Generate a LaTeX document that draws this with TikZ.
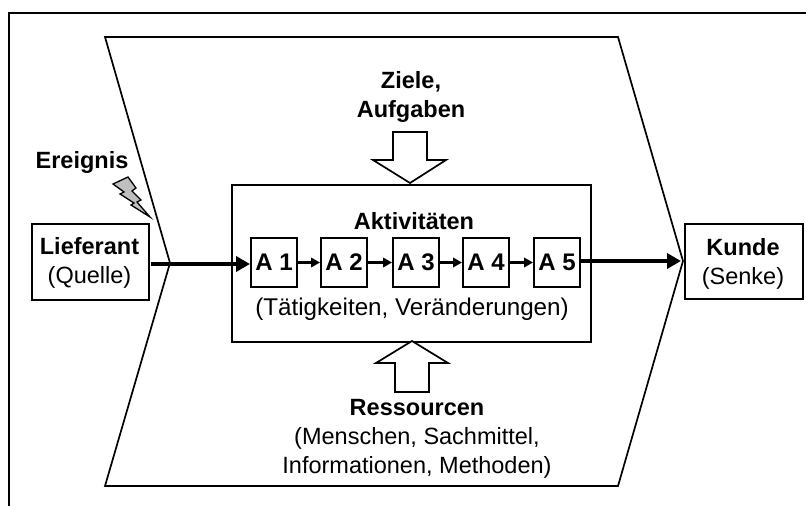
\documentclass[tikz,border=0pt]{standalone}
\usepackage{fontspec}
\usetikzlibrary{arrows.meta}
\setmainfont{Liberation Sans}
\tikzset{
 x=1bp,y=-1bp,
 line/.style={draw=black,line width=1.7bp,line join=miter},
 box/.style={draw=black,line width=2bp,fill=white,inner sep=0pt,align=center,anchor=north west},
 abox/.style={box,minimum width=46bp,minimum height=49bp,font=\bfseries\fontsize{24bp}{26bp}\selectfont},
 lab/.style={inner sep=0pt,align=center,font=\fontsize{23.5bp}{29bp}\selectfont},
 flow/.style={draw=black,line width=4.4bp},
 thin flow/.style={draw=black,line width=3.4bp},
}
\newcommand{\alab}[1]{\raisebox{-3bp}{#1}}
\begin{document}
\begin{tikzpicture}
\useasboundingbox (0,0) rectangle (806,506);
\fill[white] (0,0) rectangle (806,506);
\draw[line width=2bp] (9,506) -- (9,13) -- (806,13);
\draw[line] (105,37) -- (618,37) -- (683,261) -- (618,486) -- (105,486) -- (170,263) -- cycle;
\node[box,minimum width=117bp,minimum height=76bp] (lief) at (31,223) {};
\node[lab] at (89.5,262.5) {\textbf{Lieferant}\\(Quelle)};
\node[box,minimum width=118bp,minimum height=75bp] (kunde) at (684,223) {};
\node[lab] at (743,264) {\textbf{Kunde}\\(Senke)};
\node[box,minimum width=359bp,minimum height=157bp] (main) at (231,184) {};
\node[abox] (a1) at (250,237) {\alab{A 1}};
\node[abox] (a2) at (320,237) {\alab{A 2}};
\node[abox] (a3) at (392,237) {\alab{A 3}};
\node[abox] (a4) at (462,237) {\alab{A 4}};
\node[abox] (a5) at (533,237) {\alab{A 5}};
\node[lab,font=\bfseries\fontsize{23.5bp}{26bp}\selectfont] (akt) at (414,221) {Aktivitäten};
\node[lab,font=\fontsize{24.2bp}{29bp}\selectfont] (tat) at (412,309) {(Tätigkeiten, Veränderungen)};
\node[lab,font=\bfseries\fontsize{23.5bp}{29bp}\selectfont] (ziele) at (411,97) {Ziele,\\Aufgaben};
\node[lab,font=\bfseries\fontsize{23.5bp}{26bp}\selectfont] (ereignis) at (82,162) {Ereignis};
\node[lab,align=center] (res) at (417,439) {\textbf{Ressourcen}\\(Menschen, Sachmittel,\\Informationen, Methoden)};
\draw[line,fill=white] (393,132) -- (427,132) -- (427,160) -- (446,160) -- (410,183) -- (373,160) -- (393,160) -- cycle;
\draw[line,fill=white] (395,392) -- (429,392) -- (429,363) -- (448,363) -- (412,341) -- (376,363) -- (395,363) -- cycle;
\draw[line,fill=black!25,line width=1.3bp] (113,184) -- (128,177) -- (136,188) -- (132,191) -- (141,200) -- (137,202) -- (150,217) -- (131,205) -- (134,203) -- (120,194) -- (124,192) -- cycle;
\coordinate (st) at (151,264);
\draw[flow,-{Triangle[length=14bp,width=15bp]}] (st) -- (a1.west |- st);
\draw[thin flow,-{Triangle[length=9bp,width=9.5bp]}] (a1.east) -- (a2.west);
\draw[thin flow,-{Triangle[length=9bp,width=9.5bp]}] (a2.east) -- (a3.west);
\draw[thin flow,-{Triangle[length=9bp,width=9.5bp]}] (a3.east) -- (a4.west);
\draw[thin flow,-{Triangle[length=9bp,width=9.5bp]}] (a4.east) -- (a5.west);
\coordinate (en) at (681,261);
\draw[flow,-{Triangle[length=14bp,width=15bp]}] (a5.east |- en) -- (en);
\end{tikzpicture}
\end{document}
